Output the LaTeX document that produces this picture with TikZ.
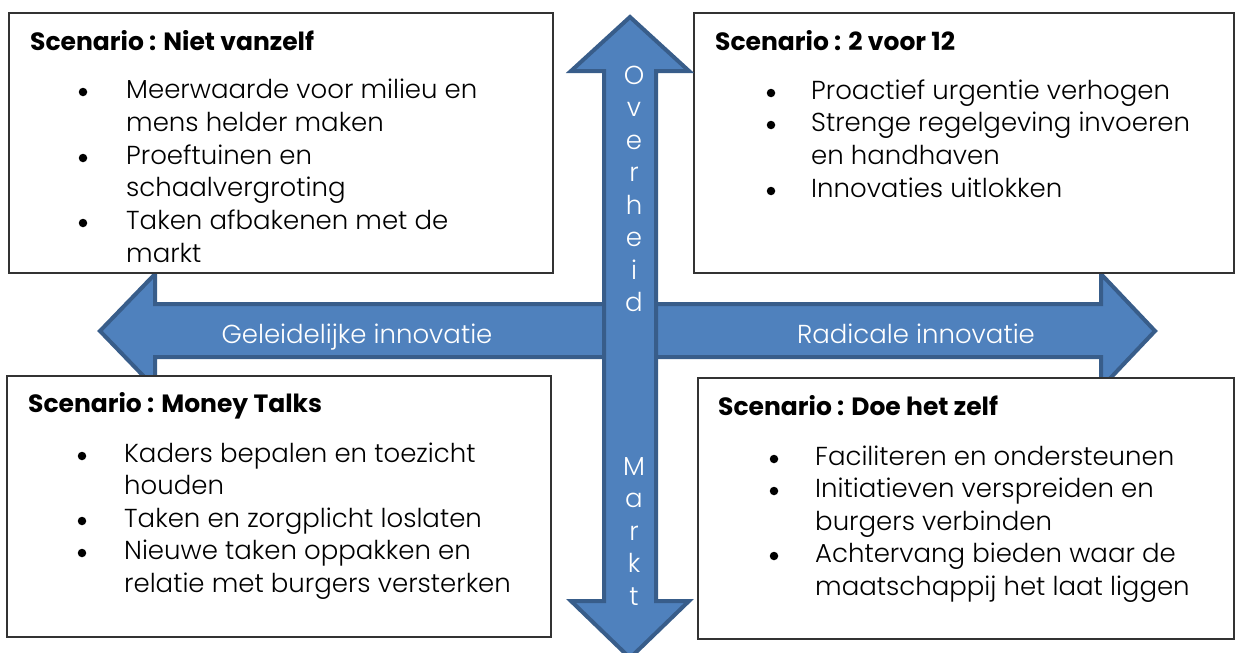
\documentclass[tikz,border=0pt]{standalone}
\usepackage{fontspec}
\setmainfont{Poppins}
\newfontfamily\lightfont{Poppins Light}
\definecolor{arrfill}{HTML}{4F81BD}
\definecolor{arrline}{HTML}{385D8A}
\begin{document}
\begin{tikzpicture}[x=1pt,y=-1pt,
  arrowshape/.style={fill=arrfill,draw=arrline,line width=4pt,line join=miter},
  scenbox/.style={fill=white,draw=black!80,line width=1.2pt},
  ttl/.style={font=\fontsize{25}{30}\selectfont\bfseries,anchor=base west,inner sep=0pt},
  body/.style={font=\lightfont\fontsize{26}{30}\selectfont,anchor=base west,inner sep=0pt},
  bul/.style={circle,fill=black,minimum size=8.5pt,inner sep=0pt},
  atxt/.style={font=\lightfont\fontsize{26}{30}\selectfont,text=white,anchor=base,inner sep=0pt},
  vlet/.style={font=\lightfont\fontsize{26}{30}\selectfont,text=white,anchor=base,inner sep=0pt}]
\useasboundingbox (0,0) rectangle (1235,653);
% horizontal double arrow
\draw[arrowshape] (100,331) -- (155,274) -- (155,304) -- (1101,304) -- (1101,274)
  -- (1155,331) -- (1101,388) -- (1101,357) -- (155,357) -- (155,388) -- cycle;
% scenario boxes
\draw[scenbox] (9,13) rectangle (553,273);
\draw[scenbox] (694,13) rectangle (1234,273);
\draw[scenbox] (7,376) rectangle (551,637);
\draw[scenbox] (698,378) rectangle (1234,639);
% vertical double arrow
\draw[arrowshape] (630,17) -- (689,71) -- (656,71) -- (656,601) -- (689,601)
  -- (630,658) -- (571,601) -- (604,601) -- (604,71) -- (571,71) -- cycle;
% arrow labels
\node[atxt] (geleid) at (357,343) {Geleidelijke innovatie};
\node[atxt] (radic) at (916,343) {Radicale innovatie};
\node[vlet] (o1) at (634,84) {O};
\node[vlet] (o2) at (634,116.5) {v};
\node[vlet] (o3) at (634,149) {e};
\node[vlet] (o4) at (634,181.5) {r};
\node[vlet] (o5) at (634,214) {h};
\node[vlet] (o6) at (634,246.5) {e};
\node[vlet] (o7) at (634,279) {i};
\node[vlet] (o8) at (634,311.5) {d};
\node[vlet] (m1) at (634,475) {M};
\node[vlet] (m2) at (634,507.5) {a};
\node[vlet] (m3) at (634,540) {r};
\node[vlet] (m4) at (634,572.5) {k};
\node[vlet] (m5) at (634,605) {t};
% top left
\node[ttl] (tlt) at (30,50) {Scenario : Niet vanzelf};
\node[bul] (tlb1) at (83,92) {};
\node[body] (tl1) at (126,98) {Meerwaarde voor milieu en};
\node[body] (tl2) at (126,131) {mens helder maken};
\node[bul] (tlb2) at (83,158) {};
\node[body] (tl3) at (126,164) {Proeftuinen en};
\node[body] (tl4) at (126,196) {schaalvergroting};
\node[bul] (tlb3) at (83,223) {};
\node[body] (tl5) at (126,229) {Taken afbakenen met de};
\node[body] (tl6) at (126,262) {markt};
% top right
\node[ttl] (trt) at (715,50) {Scenario : 2 voor 12};
\node[bul] (trb1) at (771,93) {};
\node[body] (tr1) at (811,99) {Proactief urgentie verhogen};
\node[bul] (trb2) at (771,125) {};
\node[body] (tr2) at (811,131) {Strenge regelgeving invoeren};
\node[body] (tr3) at (811,164) {en handhaven};
\node[bul] (trb3) at (771,191) {};
\node[body] (tr4) at (811,197) {Innovaties uitlokken};
% bottom left
\node[ttl] (blt) at (28,412) {Scenario : Money Talks};
\node[bul] (blb1) at (82,456) {};
\node[body] (bl1) at (124,462) {Kaders bepalen en toezicht};
\node[body] (bl2) at (124,494) {houden};
\node[bul] (blb2) at (82,521) {};
\node[body] (bl3) at (124,527) {Taken en zorgplicht loslaten};
\node[bul] (blb3) at (82,553) {};
\node[body] (bl4) at (124,559) {Nieuwe taken oppakken en};
\node[body] (bl5) at (124,592) {relatie met burgers versterken};
% bottom right
\node[ttl] (brt) at (718,415) {Scenario : Doe het zelf};
\node[bul] (brb1) at (774,459) {};
\node[body] (br1) at (815,465) {Faciliteren en ondersteunen};
\node[bul] (brb2) at (774,491) {};
\node[body] (br2) at (815,497.5) {Initiatieven verspreiden en};
\node[body] (br3) at (815,530) {burgers verbinden};
\node[bul] (brb3) at (774,556) {};
\node[body] (br4) at (815,562.5) {Achtervang bieden waar de};
\node[body] (br5) at (815,595) {maatschappij het laat liggen};
\end{tikzpicture}
\end{document}
